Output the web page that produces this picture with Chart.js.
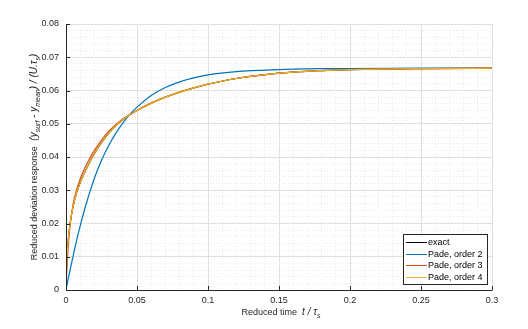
<!DOCTYPE html>
<html>
<head>
<meta charset="utf-8">
<title>Reduced deviation response</title>
<script src="https://cdn.jsdelivr.net/npm/chart.js@4.4.1/dist/chart.umd.min.js"></script>
<style>
  html, body { margin: 0; padding: 0; background: #fff; }
  #wrap { width: 528px; height: 329px; }
</style>
</head>
<body>
<div id="wrap"><canvas id="chart" width="528" height="329"></canvas></div>
<script>
// reduced time t / tau_s
const times = [0, 0.0005, 0.001, 0.002, 0.003, 0.005, 0.0075, 0.01, 0.0125, 0.015, 0.0175, 0.02,
  0.025, 0.03, 0.035, 0.04, 0.045, 0.05, 0.06, 0.07, 0.08, 0.09, 0.1, 0.12, 0.15, 0.18, 0.2, 0.25, 0.3];

// series values
const exact = [0, 0.0085, 0.0120, 0.0168, 0.0203, 0.0251, 0.0293, 0.0323, 0.0348, 0.0370, 0.0391, 0.0410,
  0.0443, 0.0471, 0.0494, 0.0512, 0.0527, 0.0540, 0.0562, 0.0580, 0.0595, 0.0608, 0.0619, 0.0636, 0.0652, 0.0660, 0.0663, 0.0666, 0.0667];
const pade2 = [0, 0.0011, 0.0022, 0.0043, 0.0063, 0.0102, 0.0150, 0.0193, 0.0233, 0.0270, 0.0304, 0.0336,
  0.0390, 0.0434, 0.0471, 0.0502, 0.0528, 0.0550, 0.0585, 0.0609, 0.0626, 0.0638, 0.0647, 0.0657, 0.0663, 0.0666, 0.0666, 0.0667, 0.0667];
const pade3 = [0, 0.0055, 0.0095, 0.0155, 0.0200, 0.0258, 0.0302, 0.0334, 0.0360, 0.0382, 0.0402, 0.0420,
  0.0451, 0.0477, 0.0497, 0.0514, 0.0528, 0.0540, 0.0562, 0.0580, 0.0595, 0.0608, 0.0619, 0.0636, 0.0652, 0.0660, 0.0663, 0.0666, 0.0667];
const pade4 = [0, 0.0085, 0.0120, 0.0168, 0.0203, 0.0251, 0.0293, 0.0323, 0.0348, 0.0370, 0.0391, 0.0410,
  0.0443, 0.0471, 0.0494, 0.0512, 0.0527, 0.0540, 0.0562, 0.0580, 0.0595, 0.0608, 0.0619, 0.0636, 0.0652, 0.0660, 0.0663, 0.0666, 0.0667];

const seriesNames = ['exact', 'Pade, order 2', 'Pade, order 3', 'Pade, order 4'];

// tick labels
const xTicks = [0, 0.05, 0.1, 0.15, 0.2, 0.25, 0.3];
const xTickLabels = ['0', '0.05', '0.1', '0.15', '0.2', '0.25', '0.3'];
const yTicks = [0, 0.01, 0.02, 0.03, 0.04, 0.05, 0.06, 0.07, 0.08];
const yTickLabels = ['0', '0.01', '0.02', '0.03', '0.04', '0.05', '0.06', '0.07', '0.08'];

const colors = ['#000000', '#0072bd', '#d95319', '#edb120'];
const FONT = '"Liberation Sans", Arial, sans-serif';
const AXIS = '#262626';

function pts(ys) {
  return times.map((t, i) => ({ x: t, y: ys[i] }));
}

function stepTicks(max, step) {
  const out = [];
  for (let i = 0; i * step <= max + 1e-9; i++) out.push({ value: +(i * step).toFixed(4) });
  return out;
}

// rich text: array of [text, font, dy]
function drawRich(ctx, parts, cx, cy) {
  let total = 0;
  parts.forEach(p => { ctx.font = p[1]; p.w = ctx.measureText(p[0]).width; total += p.w; });
  let x = cx - total / 2;
  parts.forEach(p => {
    ctx.font = p[1];
    ctx.fillText(p[0], x, cy + (p[2] || 0));
    x += p.w;
  });
}

const axisDecor = {
  id: 'axisDecor',
  afterDatasetsDraw(chart) {
    const { ctx, chartArea: a, scales: { x, y } } = chart;
    ctx.save();
    ctx.strokeStyle = AXIS;
    ctx.lineWidth = 1;
    ctx.beginPath();
    x.ticks.forEach(t => {
      const px = Math.round(x.getPixelForValue(t.value)) + 0.5;
      ctx.moveTo(px, a.bottom); ctx.lineTo(px, a.bottom - 4);
    });
    y.ticks.forEach(t => {
      const py = Math.round(y.getPixelForValue(t.value)) + 0.5;
      ctx.moveTo(a.left, py); ctx.lineTo(a.left + 4, py);
    });
    ctx.moveTo(a.left + 0.5, a.top);
    ctx.lineTo(a.left + 0.5, a.bottom + 0.5);
    ctx.lineTo(a.right + 0.5, a.bottom + 0.5);
    ctx.stroke();
    ctx.restore();
  },
  afterDraw(chart) {
    const { ctx, chartArea: a } = chart;
    ctx.save();

    // legend box inside the plot, bottom right
    const w = 84, h = 50;
    const bx = a.right - 5 - w, by = a.bottom - 6 - h;
    ctx.fillStyle = '#fff';
    ctx.fillRect(bx, by, w, h);
    ctx.strokeStyle = AXIS;
    ctx.lineWidth = 1;
    ctx.strokeRect(Math.round(bx) + 0.5, Math.round(by) + 0.5, w, h);
    ctx.font = '9px ' + FONT;
    ctx.textBaseline = 'middle';
    seriesNames.forEach((name, i) => {
      const ry = Math.round(by + 8 + i * 11.7) + 0.5;
      ctx.strokeStyle = colors[i];
      ctx.beginPath();
      ctx.moveTo(bx + 3, ry); ctx.lineTo(bx + 24, ry);
      ctx.stroke();
      ctx.fillStyle = '#000';
      ctx.fillText(name, bx + 25, ry);
    });

    // axis titles
    ctx.fillStyle = AXIS;
    ctx.textBaseline = 'alphabetic';
    const n = '9px ' + FONT, it = 'italic 10px ' + FONT, sub = 'italic 7px ' + FONT;
    drawRich(ctx, [
      ['Reduced time', n], ['  ', n], ['t / \u03c4', it], ['s', sub, 2.5]
    ], (a.left + a.right) / 2 + 2, 315);

    ctx.translate(37, (a.top + a.bottom) / 2);
    ctx.rotate(-Math.PI / 2);
    drawRich(ctx, [
      ['Reduced deviation response', n], ['  (', it], ['y', it], ['surf', sub, 2.5], [' - ', it],
      ['y', it], ['mean', sub, 2.5], [') / (U.\u03c4', it], ['s', sub, 2.5], [')', it]
    ], 0, 0);
    ctx.restore();
  }
};

Chart.defaults.font.family = FONT;
Chart.defaults.font.size = 9;
Chart.defaults.color = AXIS;

const datasets = seriesNames.map((name, i) => ({
  label: name,
  data: pts([exact, pade2, pade3, pade4][i]),
  borderColor: colors[i],
  backgroundColor: colors[i],
  borderWidth: 1.2,
  pointRadius: 0,
  cubicInterpolationMode: 'monotone',
  order: 4 - i   // pade 4 on top, exact underneath
}));

new Chart(document.getElementById('chart'), {
  type: 'line',
  data: { datasets: datasets },
  options: {
    responsive: false,
    animation: false,
    layout: { padding: { top: 24, right: 36, left: 0, bottom: 0 } },
    plugins: { legend: { display: false }, tooltip: { enabled: false } },
    scales: {
      x: {
        type: 'linear', min: 0, max: 0.3,
        afterBuildTicks: s => { s.ticks = xTicks.map(v => ({ value: v })); },
        afterFit: s => { s.height = 39; },
        ticks: { callback: (v, i) => xTickLabels[i], padding: 5, maxRotation: 0, autoSkip: false },
        grid: { color: '#dcdcdc', drawTicks: false },
        border: { display: false }
      },
      y: {
        type: 'linear', min: 0, max: 0.08,
        afterBuildTicks: s => { s.ticks = yTicks.map(v => ({ value: v })); },
        afterFit: s => { s.width = 66; },
        ticks: { callback: (v, i) => yTickLabels[i], padding: 7, autoSkip: false },
        grid: { color: '#dcdcdc', drawTicks: false },
        border: { display: false }
      },
      xMinor: {
        type: 'linear', position: 'bottom', min: 0, max: 0.3, z: -1,
        afterBuildTicks: s => { s.ticks = stepTicks(0.3, 0.01); },
        afterFit: s => { s.height = 0; },
        ticks: { display: false },
        grid: { color: '#e8e8e8', drawTicks: false },
        border: { display: false, dash: [1, 2] }
      },
      yMinor: {
        type: 'linear', position: 'left', min: 0, max: 0.08, z: -1,
        afterBuildTicks: s => { s.ticks = stepTicks(0.08, 0.002); },
        afterFit: s => { s.width = 0; },
        ticks: { display: false },
        grid: { color: '#e8e8e8', drawTicks: false },
        border: { display: false, dash: [1, 2] }
      }
    }
  },
  plugins: [axisDecor]
});
</script>
</body>
</html>
